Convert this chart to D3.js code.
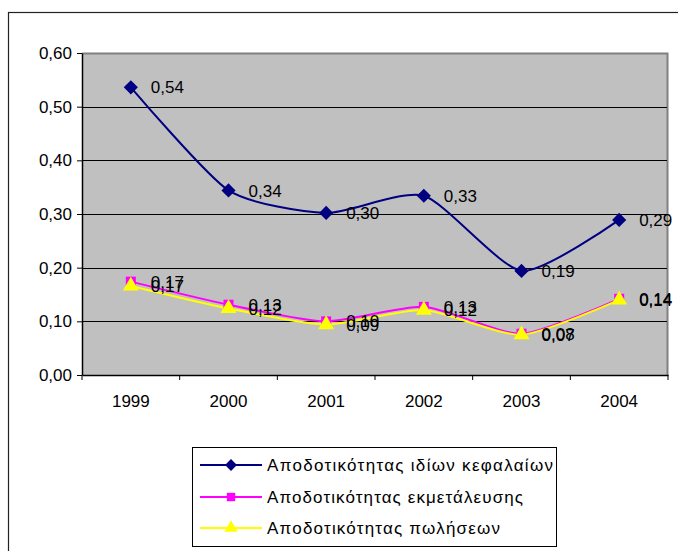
<!DOCTYPE html>
<html>
<head>
<meta charset="utf-8">
<script src="https://cdn.jsdelivr.net/npm/d3@7"></script>
<style>
  body { margin: 0; background: #fff; }
  text { font-family: "Liberation Sans", Arial, sans-serif; }
</style>
</head>
<body>
<script>
// chart values
const years = ["1999", "2000", "2001", "2002", "2003", "2004"];
const roe = [0.536, 0.344, 0.302, 0.334, 0.194, 0.289];       // ιδίων κεφαλαίων
const operating = [0.174, 0.131, 0.100, 0.127, 0.077, 0.142]; // εκμετάλευσης
const sales = [0.166, 0.124, 0.094, 0.121, 0.075, 0.140];     // πωλήσεων
const yTicks = [0, 0.1, 0.2, 0.3, 0.4, 0.5, 0.6];
const seriesNames = [
  "Αποδοτικότητας ιδίων κεφαλαίων",
  "Αποδοτικότητας εκμετάλευσης",
  "Αποδοτικότητας πωλήσεων"
];

const width = 678, height = 551;
const plot = { left: 82, top: 53, right: 668, bottom: 375 };
const fontSize = "17px";

const svg = d3.select("body").append("svg")
  .attr("width", width)
  .attr("height", height);

// outer chart border
svg.append("rect")
  .attr("x", 8.5).attr("y", 12.5)
  .attr("width", 700).attr("height", 600)
  .attr("fill", "none").attr("stroke", "#222").attr("stroke-width", 1.2);

const x = d3.scaleBand().domain(years).range([plot.left, plot.right]);
const y = d3.scaleLinear().domain([0, 0.6]).range([plot.bottom, plot.top]);
const cx = d => x(d) + x.bandwidth() / 2;
const comma = v => d3.format(".2f")(v).replace(".", ",");

// plot background
svg.append("rect")
  .attr("x", plot.left).attr("y", plot.top)
  .attr("width", plot.right - plot.left).attr("height", plot.bottom - plot.top)
  .attr("fill", "#c0c0c0");

// grey frame top/right
svg.append("path")
  .attr("d", `M${plot.left},${plot.top + 0.5}H${plot.right - 0.5}V${plot.bottom}`)
  .attr("fill", "none").attr("stroke", "#808080").attr("stroke-width", 2);

// gridlines
svg.append("g")
  .selectAll("line")
  .data(yTicks.filter(t => t > 0 && t < 0.6))
  .join("line")
  .attr("x1", plot.left).attr("x2", plot.right - 1)
  .attr("y1", d => Math.round(y(d)) + 0.5).attr("y2", d => Math.round(y(d)) + 0.5)
  .attr("stroke", "#000").attr("stroke-width", 1);

// y axis
const yAxis = svg.append("g")
  .attr("transform", `translate(${plot.left},0)`)
  .call(d3.axisLeft(y).tickValues(yTicks).tickFormat(comma).tickSize(5).tickPadding(5).tickSizeOuter(0));
yAxis.select(".domain").attr("stroke", "#000").attr("stroke-width", 1.5);
yAxis.selectAll("text").style("font-size", fontSize).attr("fill", "#000");

// x axis
const xAxis = svg.append("g")
  .attr("transform", `translate(0,${plot.bottom})`)
  .call(d3.axisBottom(x).tickSize(0).tickPadding(20).tickSizeOuter(0));
xAxis.select(".domain").attr("stroke", "#000").attr("stroke-width", 1.5);
xAxis.selectAll("text").style("font-size", fontSize).attr("fill", "#000");
xAxis.selectAll(".bound")
  .data(years.map(d => x(d)).concat([plot.right]))
  .join("line")
  .attr("class", "bound")
  .attr("x1", d => d).attr("x2", d => d)
  .attr("y1", 0).attr("y2", 5)
  .attr("stroke", "#000");

// series (diamond = rotated square)
const series = [
  { name: seriesNames[0], values: roe, color: "#000080", symbol: d3.symbolSquare, size: 100, rotate: 45 },
  { name: seriesNames[1], values: operating, color: "#ff00ff", symbol: d3.symbolSquare, size: 100, rotate: 0 },
  { name: seriesNames[2], values: sales, color: "#ffff00", symbol: d3.symbolTriangle, size: 110, rotate: 0 }
];

const line = d3.line()
  .x((d, i) => cx(years[i]))
  .y(d => y(d))
  .curve(d3.curveCardinal.tension(0.35));

series.forEach(s => {
  svg.append("path")
    .datum(s.values)
    .attr("d", line)
    .attr("fill", "none")
    .attr("stroke", s.color)
    .attr("stroke-width", 2);
});

series.forEach(s => {
  svg.append("g")
    .selectAll("path")
    .data(s.values)
    .join("path")
    .attr("transform", (d, i) => `translate(${cx(years[i])},${y(d)}) rotate(${s.rotate})`)
    .attr("d", d3.symbol(s.symbol, s.size))
    .attr("fill", s.color);
});

// data labels
series.forEach(s => {
  svg.append("g")
    .selectAll("text")
    .data(s.values)
    .join("text")
    .attr("x", (d, i) => cx(years[i]) + 20)
    .attr("y", d => y(d))
    .attr("dy", "0.36em")
    .style("font-size", fontSize)
    .attr("fill", "#000")
    .text(d => comma(d));
});

// legend
const legend = svg.append("g");
legend.append("rect")
  .attr("x", 192.5).attr("y", 447.5)
  .attr("width", 364).attr("height", 99)
  .attr("fill", "#fff").attr("stroke", "#000").attr("stroke-width", 1);

const legendY = [465, 497, 528];
const legendLen = [286, 256, 233];
series.forEach((s, i) => {
  const g = legend.append("g").attr("transform", `translate(0,${legendY[i]})`);
  g.append("line")
    .attr("x1", 200).attr("x2", 262)
    .attr("stroke", s.color).attr("stroke-width", 2);
  g.append("path")
    .attr("transform", `translate(231,0) rotate(${s.rotate})`)
    .attr("d", d3.symbol(s.symbol, s.size * 0.7))
    .attr("fill", s.color);
  g.append("text")
    .attr("x", 267)
    .attr("dy", "0.36em")
    .attr("textLength", legendLen[i])
    .attr("lengthAdjust", "spacing")
    .style("font-size", fontSize)
    .attr("fill", "#000")
    .text(s.name);
});
</script>
</body>
</html>
